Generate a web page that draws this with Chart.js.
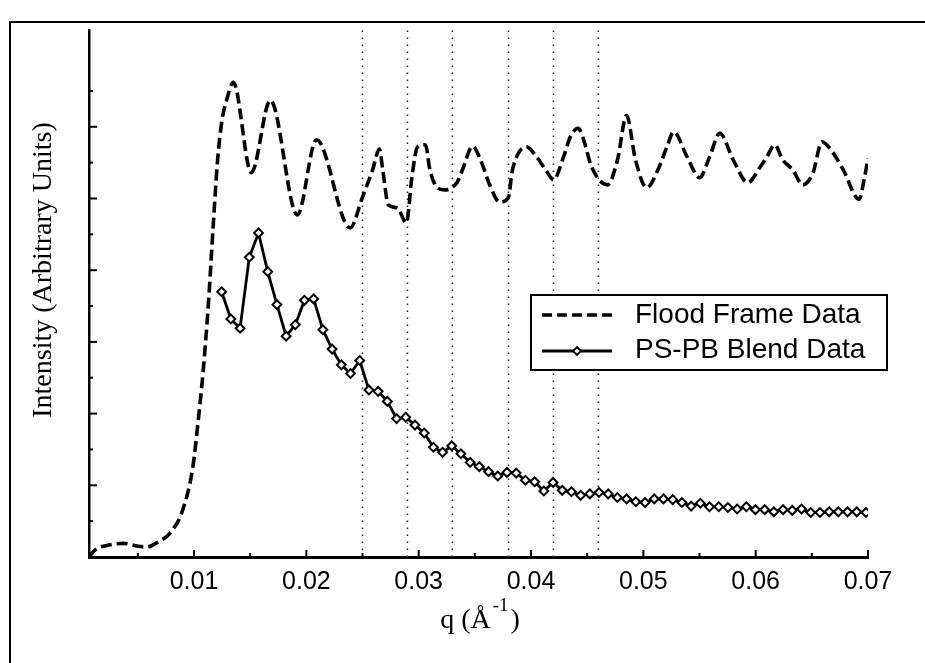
<!DOCTYPE html>
<html><head><meta charset="utf-8">
<script src="https://cdn.jsdelivr.net/npm/chart.js@4.4.1/dist/chart.umd.min.js"></script>
<style>html,body{margin:0;padding:0;background:#fff;}#wrap{width:925px;height:663px;}</style>
</head><body><div id="wrap"><canvas id="c" width="925" height="663"></canvas></div>
<script>
// ---- data ----
const xTicks = [0.01, 0.02, 0.03, 0.04, 0.05, 0.06, 0.07];
const xMinorTicks = [0.005, 0.015, 0.025, 0.035, 0.045, 0.055, 0.065];
const yTicks = [1, 2, 3, 4, 5, 6];
const yMinorTicks = [0.5, 1.5, 2.5, 3.5, 4.5, 5.5, 6.5];
const guideQ = [0.025, 0.029, 0.033, 0.038, 0.042, 0.046];
const seriesNames = ['Flood Frame Data', 'PS-PB Blend Data'];
const yTitle = 'Intensity (Arbitrary Units)';

const floodQ = [0.00065,0.0012,0.0025,0.0037,0.0050,0.0058,0.0067,0.0079,0.0090,0.0099,0.01035,0.0108,0.0113,0.0117,0.0121,0.0125,0.0129,0.0135,0.0151,0.0168,0.0192,0.0209,0.0239,0.0250,0.0259,0.0265,0.0268,0.0273,0.0281,0.0289,0.0294,0.0299,0.0306,0.0310,0.0316,0.0323,0.0334,0.0339,0.0348,0.0355,0.0364,0.0372,0.0380,0.0383,0.0388,0.0396,0.0405,0.0413,0.0420,0.0429,0.0435,0.0442,0.0446,0.0454,0.0468,0.0477,0.0485,0.0493,0.0503,0.0513,0.0521,0.0527,0.0539,0.0550,0.0559,0.0568,0.0580,0.0593,0.0604,0.0610,0.0617,0.0624,0.0633,0.0642,0.0651,0.0659,0.0666,0.0678,0.0692,0.0697,0.0700];
const floodI = [0.0,0.10,0.17,0.19,0.15,0.14,0.20,0.34,0.66,1.26,1.87,2.57,3.58,4.60,5.54,6.10,6.37,6.62,5.36,6.37,4.77,5.82,4.59,5.02,5.40,5.69,5.40,4.91,4.87,4.66,5.30,5.72,5.75,5.40,5.16,5.12,5.22,5.40,5.73,5.54,5.16,4.95,5.02,5.36,5.61,5.72,5.58,5.40,5.26,5.58,5.86,5.98,5.86,5.44,5.19,5.54,6.16,5.54,5.15,5.40,5.72,5.93,5.58,5.29,5.58,5.91,5.54,5.22,5.44,5.58,5.75,5.54,5.40,5.19,5.36,5.79,5.70,5.40,4.99,5.30,5.56];

const blendQ = [0.01246,0.01328,0.01410,0.01492,0.01574,0.01656,0.01738,0.01820,0.01902,0.01983,0.02065,0.02147,0.02229,0.02311,0.02393,0.02475,0.02557,0.02639,0.02721,0.02803,0.02885,0.02967,0.03049,0.03131,0.03213,0.03294,0.03376,0.03458,0.03540,0.03622,0.03704,0.03786,0.03868,0.03950,0.04032,0.04114,0.04196,0.04278,0.04360,0.04442,0.04524,0.04605,0.04687,0.04769,0.04851,0.04933,0.05015,0.05097,0.05179,0.05261,0.05343,0.05425,0.05507,0.05589,0.05671,0.05753,0.05835,0.05917,0.05998,0.06080,0.06162,0.06244,0.06326,0.06408,0.06490,0.06572,0.06654,0.06736,0.06818,0.06900,0.06982];
const blendI = [3.70,3.32,3.19,4.18,4.52,3.98,3.52,3.08,3.24,3.58,3.60,3.17,2.90,2.68,2.56,2.74,2.33,2.31,2.17,1.93,1.95,1.84,1.73,1.53,1.46,1.55,1.44,1.32,1.26,1.19,1.13,1.18,1.17,1.07,1.05,0.92,1.04,0.93,0.91,0.86,0.88,0.90,0.88,0.83,0.81,0.77,0.76,0.81,0.81,0.80,0.76,0.71,0.75,0.70,0.70,0.69,0.67,0.70,0.66,0.66,0.63,0.66,0.65,0.67,0.62,0.62,0.63,0.63,0.63,0.63,0.62];

// ---- chart ----
const X_MIN = 0.00065, X_MAX = 0.07, Y_MIN = 0, Y_MAX = 7.35;
const toPts = (qs, vs) => qs.map((q, i) => ({x: q, y: vs[i]}));

const datasets = [
  {label: seriesNames[0], data: toPts(floodQ, floodI), borderColor: '#000', borderWidth: 3.6,
   borderDash: [11, 5], pointRadius: 0, cubicInterpolationMode: 'monotone', fill: false},
  {label: seriesNames[1], data: toPts(blendQ, blendI), borderColor: '#000', borderWidth: 2.8,
   tension: 0, pointStyle: 'rectRot', pointRadius: 4.4, pointBorderWidth: 2,
   pointBackgroundColor: '#fff', pointBorderColor: '#000', fill: false}
];
guideQ.forEach(q => datasets.push({label: '', data: [{x: q, y: Y_MIN}, {x: q, y: Y_MAX}],
  borderColor: '#222', borderWidth: 1.5, borderDash: [1.5, 5.5], pointRadius: 0, fill: false}));

const decor = {
  id: 'decor',
  beforeDraw(chart) {
    const ctx = chart.ctx;
    ctx.save();
    ctx.fillStyle = '#fff';
    ctx.fillRect(0, 0, chart.width, chart.height);
    ctx.strokeStyle = '#000';
    ctx.lineWidth = 2;
    ctx.beginPath();
    ctx.moveTo(10, 663); ctx.lineTo(10, 22); ctx.lineTo(925, 22);
    ctx.stroke();
    ctx.restore();
  },
  afterDraw(chart) {
    const ctx = chart.ctx, xs = chart.scales.x, ys = chart.scales.y;
    const a = chart.chartArea;
    ctx.save();
    ctx.strokeStyle = '#000';
    // inward tick marks
    ctx.lineWidth = 2;
    xTicks.forEach(v => { const px = xs.getPixelForValue(v);
      ctx.beginPath(); ctx.moveTo(px, a.bottom); ctx.lineTo(px, a.bottom - 7); ctx.stroke(); });
    xMinorTicks.forEach(v => { const px = xs.getPixelForValue(v);
      ctx.beginPath(); ctx.moveTo(px, a.bottom); ctx.lineTo(px, a.bottom - 4); ctx.stroke(); });
    yTicks.forEach(v => { const py = ys.getPixelForValue(v);
      ctx.beginPath(); ctx.moveTo(a.left, py); ctx.lineTo(a.left + 8, py); ctx.stroke(); });
    yMinorTicks.forEach(v => { const py = ys.getPixelForValue(v);
      ctx.beginPath(); ctx.moveTo(a.left, py); ctx.lineTo(a.left + 4, py); ctx.stroke(); });

    // legend
    const L = 531, T = 295, W = 356, H = 75;
    ctx.fillStyle = '#fff';
    ctx.fillRect(L, T, W, H);
    ctx.lineWidth = 2;
    ctx.strokeRect(L, T, W, H);
    ctx.lineWidth = 3.6; ctx.setLineDash([10, 5]);
    ctx.beginPath(); ctx.moveTo(542, 315); ctx.lineTo(614, 315); ctx.stroke();
    ctx.setLineDash([]);
    ctx.lineWidth = 2.8;
    ctx.beginPath(); ctx.moveTo(542, 351); ctx.lineTo(612, 351); ctx.stroke();
    ctx.beginPath(); ctx.moveTo(577, 347); ctx.lineTo(581, 351); ctx.lineTo(577, 355); ctx.lineTo(573, 351); ctx.closePath();
    ctx.fillStyle = '#fff'; ctx.fill(); ctx.lineWidth = 1.8; ctx.stroke();
    ctx.fillStyle = '#000';
    ctx.font = '28px "Liberation Sans", Arial, sans-serif';
    ctx.textAlign = 'left'; ctx.textBaseline = 'alphabetic';
    ctx.fillText(seriesNames[0], 635, 323);
    ctx.fillText(seriesNames[1], 635, 358);

    // y title
    ctx.save();
    ctx.translate(44, 270); ctx.rotate(-Math.PI / 2);
    ctx.font = '28px "Liberation Serif", "Times New Roman", serif';
    ctx.textAlign = 'center'; ctx.textBaseline = 'middle';
    ctx.fillText(yTitle, 0, 0);
    ctx.restore();

    // x title: q (Å^-1)
    const big = '28px "Liberation Serif", "Times New Roman", serif';
    const small = '19px "Liberation Serif", "Times New Roman", serif';
    const parts = [['q (Å', big, 0, 0], ['-1', small, -17, 2], [')', big, 0, 2]];
    let total = 0;
    parts.forEach(p => { ctx.font = p[1]; total += ctx.measureText(p[0]).width + p[3]; });
    let x = 480 - total / 2;
    ctx.textAlign = 'left'; ctx.textBaseline = 'alphabetic';
    parts.forEach(p => { ctx.font = p[1]; x += p[3]; ctx.fillText(p[0], x, 628 + p[2]); x += ctx.measureText(p[0]).width; });
    ctx.restore();
  }
};

new Chart(document.getElementById('c'), {
  type: 'line',
  data: {datasets},
  plugins: [decor],
  options: {
    responsive: false, animation: false, devicePixelRatio: 1,
    layout: {padding: {left: 0, right: 57, top: 30, bottom: 0}},
    plugins: {legend: {display: false}, tooltip: {enabled: false}, title: {display: false}},
    scales: {
      x: {
        type: 'linear', min: X_MIN, max: X_MAX,
        afterFit(s) { s.height = 106; },
        afterBuildTicks(s) { s.ticks = xTicks.map(v => ({value: v})); },
        grid: {display: false, drawTicks: false},
        border: {display: true, color: '#000', width: 3},
        ticks: {color: '#000', padding: 10, autoSkip: false, maxRotation: 0,
          font: {family: '"Liberation Sans", Arial, sans-serif', size: 25},
          callback: v => Number(v).toFixed(2)}
      },
      y: {
        type: 'linear', min: Y_MIN, max: Y_MAX,
        afterFit(s) { s.width = 89; },
        grid: {display: false, drawTicks: false},
        border: {display: true, color: '#000', width: 2.5},
        ticks: {display: false}
      }
    }
  }
});
</script>
</body></html>
